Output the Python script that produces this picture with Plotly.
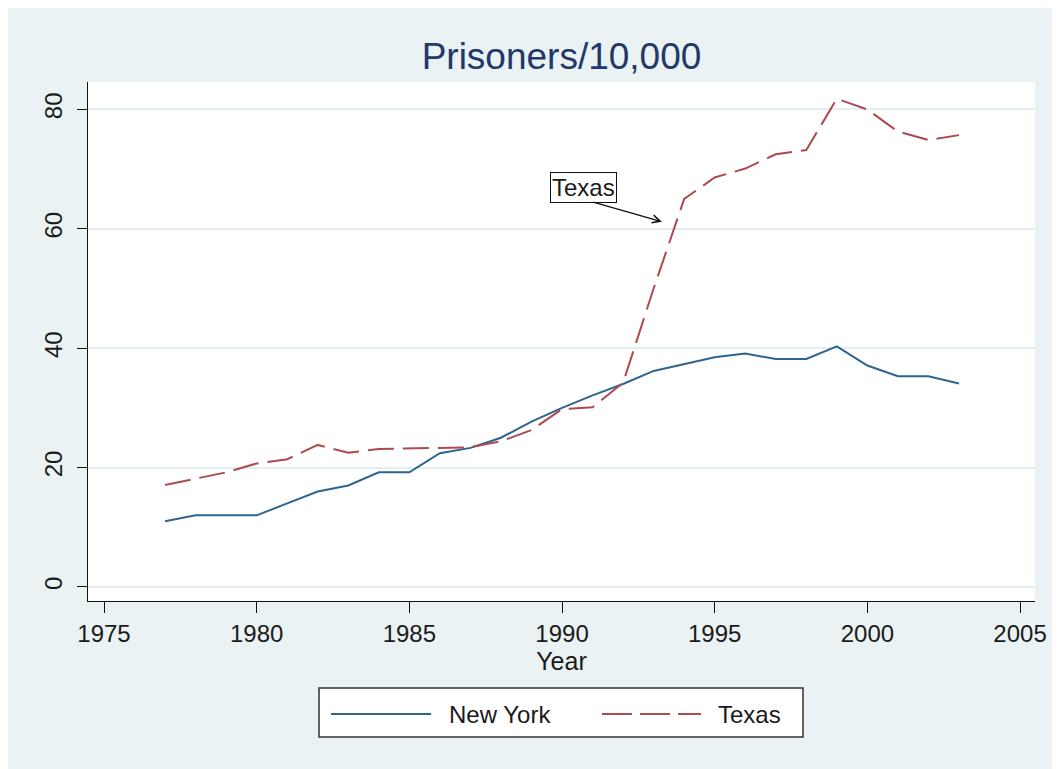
import plotly.graph_objects as go

# ---- data ----
years = list(range(1977, 2004))
new_york = [11, 12, 12, 12, 14, 16, 17, 19.2, 19.2, 22.4, 23.3, 25, 27.7, 30, 32.1, 34, 36.2, 37.3, 38.5, 39.1, 38.2, 38.2, 40.3, 37.1, 35.3, 35.3, 34.1]
texas = [17.1, 18.1, 19.2, 20.7, 21.4, 23.8, 22.5, 23.1, 23.2, 23.4, 23.4, 24.4, 26.3, 29.8, 30.1, 34.2, 50.0, 65.0, 68.6, 70.1, 72.5, 73.2, 81.8, 80.0, 76.3, 74.9, 75.7]
x_ticks = [1975, 1980, 1985, 1990, 1995, 2000, 2005]
y_ticks = [0, 20, 40, 60, 80]
series_names = ["New York", "Texas"]

# ---- style ----
W, H = 1060, 769
OFF = 8                                   # page body margin
# plot area, in screenshot pixels
SL, SR, ST, SB = 88, 1035, 82, 601
L, R, T, B = SL - OFF, SR - OFF, ST - OFF, SB - OFF
BG = "#EAF2F3"
NY_COLOR = "#2e6490"
TX_COLOR = "#ad4a50"
DASH = "26px,9px"
FONT = "Liberation Sans, Arial, sans-serif"


def pxx(p):
    """screenshot x pixel -> paper coordinate"""
    return (p - OFF - L) / (R - L)


def pxy(p):
    """screenshot y pixel -> paper coordinate"""
    return (B - (p - OFF)) / (B - T)


fig = go.Figure()
fig.add_trace(go.Scatter(x=years, y=new_york, mode="lines", name=series_names[0],
                         line=dict(color=NY_COLOR, width=2), showlegend=False))
fig.add_trace(go.Scatter(x=years, y=texas, mode="lines", name=series_names[1],
                         line=dict(color=TX_COLOR, width=2, dash=DASH), showlegend=False))

shapes = [
    # white strip at the right edge of the page
    dict(type="rect", xref="paper", yref="paper", x0=pxx(1052), x1=pxx(1075), y0=pxy(790), y1=pxy(0),
         fillcolor="white", line=dict(width=0), layer="below"),
    # white plot region
    dict(type="rect", xref="paper", yref="paper", x0=0, x1=1, y0=0, y1=1,
         fillcolor="white", line=dict(width=0), layer="below"),
    # legend box
    dict(type="rect", xref="paper", yref="paper", x0=pxx(319), x1=pxx(803), y0=pxy(737), y1=pxy(688),
         fillcolor="white", line=dict(color="#333333", width=1.5), layer="above"),
    dict(type="line", xref="paper", yref="paper", x0=pxx(331), x1=pxx(431), y0=pxy(714), y1=pxy(714),
         line=dict(color=NY_COLOR, width=2), layer="above"),
    dict(type="line", xref="paper", yref="paper", x0=pxx(602), x1=pxx(701), y0=pxy(714), y1=pxy(714),
         line=dict(color=TX_COLOR, width=2, dash="30px,8px"), layer="above"),
]

annotations = [
    dict(text=series_names[0], xref="paper", yref="paper", x=pxx(447), y=pxy(714),
         xanchor="left", yanchor="middle", showarrow=False,
         font=dict(family=FONT, size=24, color="#1a1a1a")),
    dict(text=series_names[1], xref="paper", yref="paper", x=pxx(716), y=pxy(714),
         xanchor="left", yanchor="middle", showarrow=False,
         font=dict(family=FONT, size=24, color="#1a1a1a")),
    # Texas label box
    dict(text="Texas", x=1990.69, y=66.9, xref="x", yref="y", showarrow=False,
         xanchor="center", yanchor="middle", bordercolor="#111111", borderwidth=1,
         borderpad=1, bgcolor="white", font=dict(family=FONT, size=24, color="#1a1a1a")),
    # arrow
    dict(text="", x=1993.27, y=61.2, xref="x", yref="y", ax=1990.97, ay=64.55,
         axref="x", ayref="y", showarrow=True, arrowhead=5, arrowsize=1.2,
         arrowwidth=1.3, arrowcolor="#111111", standoff=0, startstandoff=0),
]

fig.update_layout(
    width=W, height=H,
    margin=dict(l=L, r=W - R, t=T, b=H - B, pad=0),
    paper_bgcolor=BG,
    plot_bgcolor="white",
    showlegend=False,
    title=dict(text="Prisoners/10,000", x=0.5, xref="paper", xanchor="center",
               y=1 - (56 - OFF) / H, yref="container", yanchor="middle",
               font=dict(family=FONT, size=37, color="#23386a")),
    shapes=shapes,
    annotations=annotations,
)

fig.update_xaxes(
    range=[1974.476, 2005.49], tickvals=x_ticks, ticktext=[str(v) for v in x_ticks],
    showgrid=False, zeroline=False, showline=True, linecolor="#111111", linewidth=1,
    ticks="outside", ticklen=11, tickwidth=1, tickcolor="#111111",
    tickfont=dict(family=FONT, size=24, color="#1a1a1a"),
    title=dict(text="Year", font=dict(family=FONT, size=25, color="#1a1a1a"), standoff=0),
)
fig.update_yaxes(
    range=[-2.35, 84.6], tickvals=y_ticks, ticktext=[str(v) for v in y_ticks],
    showgrid=True, gridcolor="#E4EDEF", gridwidth=1.5, zeroline=False,
    showline=True, linecolor="#111111", linewidth=1,
    ticks="outside", ticklen=10, tickwidth=1, tickcolor="#111111", tickangle=-90,
    ticklabelstandoff=5,
    tickfont=dict(family=FONT, size=24, color="#1a1a1a"),
)

fig.write_html("out.html")
